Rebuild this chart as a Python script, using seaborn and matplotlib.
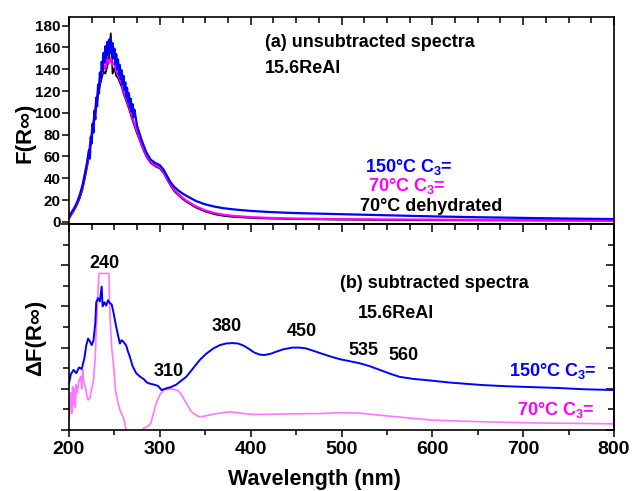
import numpy as np
import matplotlib
matplotlib.use("Agg")
import matplotlib.pyplot as plt
import seaborn as sns
from matplotlib.ticker import MultipleLocator, NullFormatter

# --- data ---
# (a) unsubtracted spectra, 150 C C3= (noisy around the 240 nm band)
wl_a150 = [200, 203, 206, 209, 212, 215, 218, 220,
           222, 223, 224, 225, 226, 227, 228, 229, 230, 231,
           232, 233, 234, 235, 236, 237, 238, 239, 240, 241,
           242, 243, 244, 245, 246, 247, 248, 249, 250, 251,
           252, 253, 254, 255, 256, 257, 258, 259, 260, 261,
           262, 263, 264, 265, 266, 267, 268, 269, 270, 271, 272,
           275, 280, 285, 290, 295, 300, 304, 308, 312, 316, 320,
           325, 330, 340, 350, 360, 370, 380, 400, 420, 450,
           500, 550, 600, 650, 700, 750, 800]
f_150 = [4, 9, 13, 18, 25, 34, 46, 55,
         66, 58, 78, 72, 90, 82, 102, 94, 114, 106,
         126, 118, 137, 129, 147, 139, 155, 146, 161, 150,
         165, 153, 167, 156, 169, 154, 164, 150, 159, 145,
         154, 140, 149, 135, 144, 131, 139, 126, 134, 121,
         128, 115, 123, 110, 118, 105, 113, 101, 108, 96, 103,
         88, 75, 64, 57, 54, 52, 48, 42, 36, 32, 29,
         26, 23.5, 19, 16, 14, 12.5, 11.5, 10, 9, 8,
         7, 6, 5, 4.2, 3.6, 3, 2.5]

# 70 C C3= and 70 C dehydrated share one wavelength grid
wl_a70 = [200, 203, 206, 209, 212, 215, 218, 221, 224, 226,
          228, 230, 232, 234, 236, 238, 240, 242, 244, 246,
          248, 250, 252, 254, 256, 258, 260, 263, 266, 270,
          275, 280, 285, 290, 295, 300, 304, 308, 312, 316,
          320, 325, 330, 340, 350, 360, 370, 380, 400, 420,
          450, 500, 550, 600, 650, 700, 750, 800]
f_70 = [3, 8, 12, 17, 24, 32, 45, 58, 76, 88,
        98, 110, 120, 130, 136, 144, 140, 150, 146, 150,
        144, 146, 138, 136, 130, 127, 120, 113, 106, 95,
        83, 71, 61, 55, 52, 50, 46, 40, 34, 29,
        26, 22, 19, 14, 10.5, 8, 6.5, 5.5, 4.3, 3.6,
        3, 2.5, 2.2, 2, 1.8, 1.6, 1.5, 1.4]
f_dehyd = [3, 7, 11, 16, 22, 30, 42, 55, 72, 84,
           95, 105, 116, 125, 132, 138, 136, 142, 150, 173,
           136, 141, 134, 132, 128, 124, 118, 111, 104, 93,
           81, 70, 60, 54, 51, 49, 45, 39, 33, 28,
           25, 21, 18, 13, 9.5, 7, 5.5, 4.6, 3.6, 3,
           2.5, 2, 1.7, 1.5, 1.3, 1.2, 1.1, 1.0]

# (b) subtracted spectra
wl_d150 = [200, 202, 205, 208, 211, 214, 217, 219, 221, 223,
           225, 227, 229, 230, 232, 234, 236, 237, 239, 241,
           243, 245, 247, 249, 252, 254, 256, 258, 260, 263,
           265, 267, 270, 274, 278, 282, 286, 290, 294, 298,
           302, 307, 312, 318, 322, 329, 336, 344, 351, 359,
           366, 373, 380, 386, 392, 398, 404, 410, 415, 422,
           428, 436, 446, 454, 461, 468, 476, 487, 498, 509,
           520, 531, 542, 553, 564, 579, 594, 607, 620, 638,
           656, 684, 711, 739, 766, 783, 800]
d_150 = [1.13, 1.35, 1.46, 1.38, 1.52, 1.48, 1.75, 2.05, 2.22, 2.15,
         2.06, 2.18, 2.6, 3.1, 3.2, 3.12, 3.48, 3.0, 3.1, 3.02,
         3.15, 3.08, 3.05, 2.85, 2.5, 2.3, 2.1, 2.18, 2.14, 2.05,
         1.9, 1.78, 1.55, 1.38, 1.3, 1.24, 1.15, 1.12, 1.1, 1.07,
         0.97, 1.01, 1.04, 1.1, 1.17, 1.29, 1.48, 1.70, 1.85, 1.98,
         2.06, 2.10, 2.11, 2.10, 2.05, 1.97, 1.88, 1.83, 1.82, 1.85,
         1.90, 1.96, 2.0, 2.0, 1.98, 1.93, 1.87, 1.79, 1.72, 1.67,
         1.62, 1.55, 1.46, 1.37, 1.29, 1.24, 1.21, 1.18, 1.15, 1.12,
         1.09, 1.06, 1.04, 1.02, 0.99, 0.98, 0.97]

wl_d70 = [200, 201, 202, 203, 204, 205, 206, 207, 208, 209,
          211, 213, 214, 215, 216, 218, 220, 221, 223, 225,
          227, 229, 230, 232, 233, 236, 240, 244, 245, 247,
          249, 251, 253, 256, 258, 260, 263, 266, 270, 275,
          279, 282, 286, 290, 293, 296, 300, 304, 308, 312,
          316, 320, 324, 327, 331, 335, 340, 344, 350, 358,
          368, 377, 386, 395, 405, 417, 440, 476, 498, 520,
          542, 570, 601, 640, 675, 720, 760, 800]
d_70 = [0.16, 0.6, 0.9, 0.4, 1.05, 0.6, 1.0, 0.55, 1.1, 0.9,
        1.2, 1.3, 1.0, 1.46, 1.2, 1.05, 0.8, 0.73, 0.78, 1.0,
        1.21, 1.8, 2.43, 3.4, 3.8, 3.8, 3.8, 3.8, 2.83, 2.0,
        1.6, 1.0, 0.75, 0.49, 0.38, 0.3, 0.0, -0.3, -0.6, -0.5,
        -0.1, 0.04, 0.08, 0.16, 0.4, 0.65, 0.85, 0.97, 0.99, 1.0,
        0.98, 0.96, 0.85, 0.73, 0.58, 0.44, 0.36, 0.32, 0.34, 0.38,
        0.42, 0.44, 0.42, 0.39, 0.38, 0.38, 0.39, 0.40, 0.42, 0.41,
        0.36, 0.30, 0.24, 0.21, 0.19, 0.17, 0.16, 0.15]

peak_pos = [238.5, 310, 374, 456.5, 524, 568.5]
peak_val = [3.92, 1.32, 2.41, 2.28, 1.82, 1.70]
peak_lbl = ["240", "310", "380", "450", "535", "560"]

BLUE = "#0000ff"
MAG = "#ff00ff"
LMAG = "#ff77ff"

sns.set_style("ticks")
plt.rcParams['font.family'] = ['Liberation Sans', 'DejaVu Sans']
plt.rcParams['font.weight'] = 'bold'
plt.rcParams['text.color'] = 'black'
plt.rcParams['axes.labelcolor'] = 'black'
plt.rcParams['xtick.color'] = 'black'
plt.rcParams['ytick.color'] = 'black'
plt.rcParams['mathtext.fontset'] = 'custom'
plt.rcParams['mathtext.rm'] = 'Liberation Sans:bold'
plt.rcParams['mathtext.it'] = 'Liberation Sans:bold'
plt.rcParams['mathtext.bf'] = 'Liberation Sans:bold'
plt.rcParams['mathtext.default'] = 'regular'

fig = plt.figure(figsize=(6.34, 4.91), dpi=100)
ax1 = fig.add_axes([0.1088, 0.5438, 0.8597, 0.4216])
ax2 = fig.add_axes([0.1088, 0.1242, 0.8597, 0.4196])

# top panel
sns.lineplot(x=wl_a70, y=f_dehyd, ax=ax1, color="black", lw=1.3, estimator=None, sort=False)
sns.lineplot(x=wl_a70, y=f_70, ax=ax1, color=MAG, lw=1.6, estimator=None, sort=False)
sns.lineplot(x=wl_a150, y=f_150, ax=ax1, color=BLUE, lw=1.6, estimator=None, sort=False)

ax1.set_xlim(200, 800)
ax1.set_ylim(-2, 188)
ax1.set_yticks(range(0, 181, 20))
ax1.xaxis.set_major_locator(MultipleLocator(100))
ax1.xaxis.set_minor_locator(MultipleLocator(25))
ax1.tick_params(axis='y', which='major', direction='out', length=5, width=1.1,
                labelsize=11, pad=1)
ax1.tick_params(axis='x', which='both', direction='in', top=True, bottom=False,
                labelbottom=False, width=1.1)
ax1.tick_params(axis='x', which='major', length=6)
ax1.tick_params(axis='x', which='minor', length=4)
for t in ax1.get_yticklabels():
    t.set_fontweight('bold')
ax1.set_ylabel("F(R\u221e)", fontsize=16, fontweight='bold', va='center')
ax1.yaxis.set_label_coords(-0.081, 0.44)

ax1.text(416, 160, "(a) unsubtracted spectra", fontsize=13, fontweight='bold', va='baseline')
ax1.text(416, 137, "15.6ReAl", fontsize=13, fontweight='bold', va='baseline')
ax1.text(526, 46, "150\u00b0C C$_3$=", fontsize=13, fontweight='bold', color=BLUE, va='baseline')
ax1.text(529.5, 28.5, "70\u00b0C C$_3$=", fontsize=13, fontweight='bold', color=MAG, va='baseline')
ax1.text(520.4, 10.2, "70\u00b0C dehydrated", fontsize=13, fontweight='bold', color="black", va='baseline')

# bottom panel
sns.lineplot(x=wl_d70, y=d_70, ax=ax2, color=LMAG, lw=1.2, estimator=None, sort=False)
sns.lineplot(x=wl_d150, y=d_150, ax=ax2, color=BLUE, lw=1.4, estimator=None, sort=False)

ax2.set_xlim(200, 800)
ax2.set_ylim(0, 5)
ax2.xaxis.set_major_locator(MultipleLocator(100))
ax2.xaxis.set_minor_locator(MultipleLocator(50))
ax2.yaxis.set_major_locator(MultipleLocator(1))
ax2.yaxis.set_minor_locator(MultipleLocator(0.5))
ax2.tick_params(axis='x', which='both', direction='out', top=False, labelsize=14, pad=3, width=1.1)
ax2.tick_params(axis='x', which='major', length=5)
ax2.tick_params(axis='x', which='minor', length=3.5)
ax2.tick_params(axis='y', which='both', direction='out', left=True, right=False,
                labelleft=False, width=1.1)
ax2.tick_params(axis='y', which='major', length=6)
ax2.tick_params(axis='y', which='minor', length=4)
for t in ax2.get_xticklabels():
    t.set_fontweight('bold')

# inward ticks on the shared boundary and on the right spine
topx = ax2.secondary_xaxis('top')
topx.xaxis.set_major_locator(MultipleLocator(100))
topx.xaxis.set_minor_locator(MultipleLocator(25))
topx.xaxis.set_major_formatter(NullFormatter())
topx.tick_params(axis='x', which='both', direction='in', width=1.1)
topx.tick_params(axis='x', which='major', length=6)
topx.tick_params(axis='x', which='minor', length=4)
righty = ax2.secondary_yaxis('right')
righty.yaxis.set_major_locator(MultipleLocator(1))
righty.yaxis.set_minor_locator(MultipleLocator(0.5))
righty.yaxis.set_major_formatter(NullFormatter())
righty.tick_params(axis='y', which='both', direction='in', width=1.1)
righty.tick_params(axis='y', which='major', length=6)
righty.tick_params(axis='y', which='minor', length=4)

ax2.set_ylabel("\u0394F(R\u221e)", fontsize=16, fontweight='bold', va='center')
ax2.yaxis.set_label_coords(-0.062, 0.447)
ax2.set_xlabel("Wavelength (nm)", fontsize=15.5, fontweight='bold', va='center')
ax2.xaxis.set_label_coords(0.451, -0.238)

for x, y, s in zip(peak_pos, peak_val, peak_lbl):
    ax2.text(x, y, s, fontsize=13, fontweight='bold', ha='center', va='baseline')
ax2.text(498, 3.44, "(b) subtracted spectra", fontsize=13, fontweight='bold', va='baseline')
ax2.text(517.8, 2.71, "15.6ReAl", fontsize=13, fontweight='bold', va='baseline')
ax2.text(684.4, 1.32, "150\u00b0C C$_3$=", fontsize=13, fontweight='bold', color=BLUE, va='baseline')
ax2.text(693, 0.36, "70\u00b0C C$_3$=", fontsize=13, fontweight='bold', color=MAG, va='baseline')

for ax in (ax1, ax2):
    for sp in ax.spines.values():
        sp.set_visible(True)
        sp.set_linewidth(1.2)
        sp.set_color("black")
for sec in (topx, righty):
    for sp in sec.spines.values():
        sp.set_linewidth(1.2)
        sp.set_color("black")

fig.savefig("out.png", dpi=100)
